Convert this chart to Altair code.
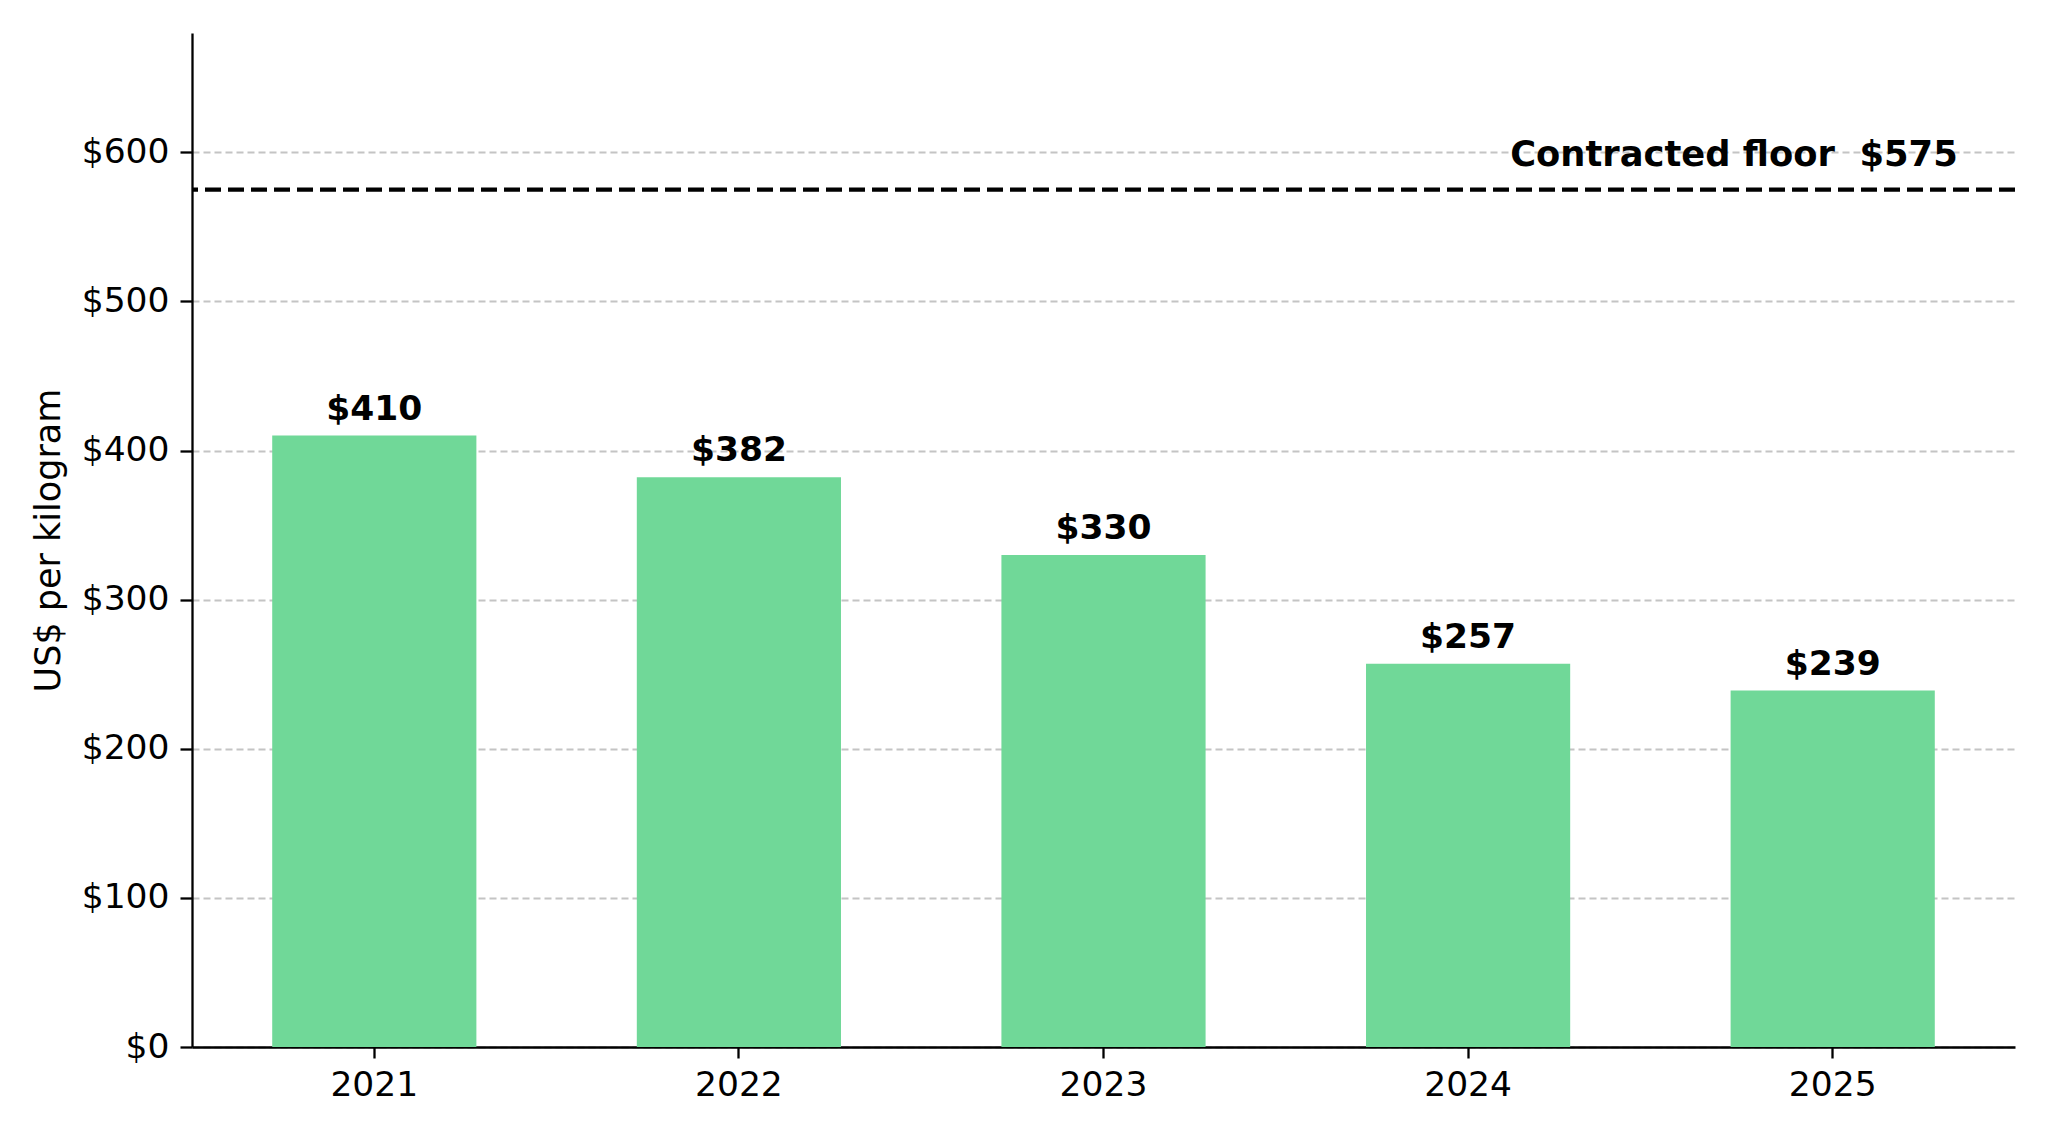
import altair as alt
import pandas as pd

years = ["2021", "2022", "2023", "2024", "2025"]
prices = [410, 382, 330, 257, 239]
value_labels = ["$410", "$382", "$330", "$257", "$239"]
floor_value = 575
floor_label = "Contracted floor\u00a0\u00a0$575"
y_ticks = [0, 100, 200, 300, 400, 500, 600]

FONT = "DejaVu Sans"
BAR = "#70d898"

df = pd.DataFrame({"year": years, "price": prices, "label": value_labels})
floor_df = pd.DataFrame({"year": ["2025"], "price": [floor_value], "label": [floor_label]})

x_scale = alt.Scale(domain=years, paddingInner=0.44, paddingOuter=0.22)
y_scale = alt.Scale(domain=[0, 680], nice=False, zero=True)

x_enc = alt.X(
    "year:N",
    scale=x_scale,
    sort=years,
    axis=alt.Axis(
        title=None, labelAngle=0, labelFont=FONT, labelFontSize=34.5, labelColor="#000000",
        labelPadding=10, tickSize=11, tickWidth=2.3, tickColor="#000000",
        domainColor="#000000", domainWidth=2.3, grid=False,
    ),
)
y_enc = alt.Y(
    "price:Q",
    scale=y_scale,
    axis=alt.Axis(
        title="US$ per kilogram", titleFont=FONT, titleFontSize=35, titleFontWeight="normal",
        titleColor="#000000", titlePadding=15,
        values=y_ticks, labelExpr="'$' + datum.value",
        labelFont=FONT, labelFontSize=34.5, labelColor="#000000", labelPadding=11,
        tickSize=12, tickWidth=2.3, tickColor="#000000",
        domainColor="#000000", domainWidth=2.3,
        grid=True, gridColor="#c4c4c4", gridDash=[7, 4], gridWidth=2,
    ),
)

bars = alt.Chart(df).mark_bar(color=BAR).encode(x=x_enc, y=y_enc)

labels = alt.Chart(df).mark_text(
    font=FONT, fontSize=34.5, fontWeight="bold", color="#000000",
    baseline="alphabetic", align="center", dy=-16,
).encode(x=alt.X("year:N", scale=x_scale, sort=years), y=alt.Y("price:Q", scale=y_scale), text="label:N")

floor_rule = alt.Chart(floor_df).mark_rule(
    color="#000000", strokeWidth=4.2, strokeDash=[16, 7]
).encode(y=alt.Y("price:Q", scale=y_scale))

floor_text = alt.Chart(floor_df).mark_text(
    font=FONT, fontSize=35.3, fontWeight="bold", color="#000000",
    baseline="alphabetic", align="right", dx=125, dy=-24,
).encode(x=alt.X("year:N", scale=x_scale, sort=years), y=alt.Y("price:Q", scale=y_scale), text="label:N")

chart = alt.layer(bars, floor_rule, labels, floor_text).properties(
    width=1823, height=1014,
    autosize=alt.AutoSizeParams(type="none"),
    padding={"left": 184, "top": 25, "right": 25, "bottom": 80},
).configure(background="white").configure_view(strokeWidth=0, stroke="transparent")

chart.save("out.html", embed_options={"renderer": "svg", "actions": False})
